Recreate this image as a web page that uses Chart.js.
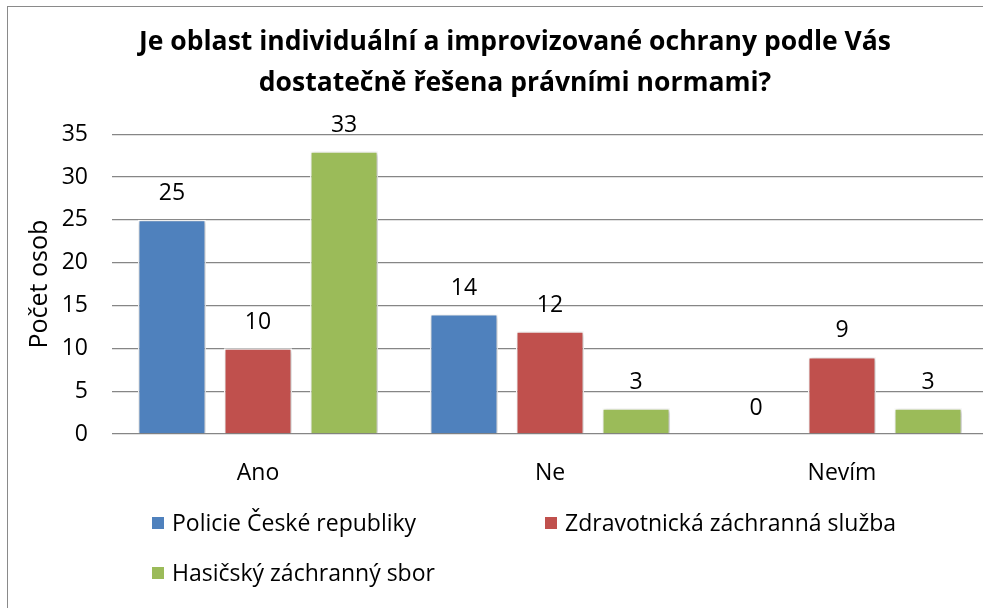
<!DOCTYPE html>
<html>
<head>
<meta charset="utf-8">
<script src="https://cdn.jsdelivr.net/npm/chart.js@4.4.1/dist/chart.umd.min.js"></script>
<style>
  html, body { margin: 0; padding: 0; background: #fff; overflow: hidden; }
  .frame { position: absolute; left: 7px; top: 6px; width: 1100px; height: 700px;
           border-left: 1.5px solid #8a8a8a; border-top: 1.5px solid #8a8a8a; }
  .wrap { position: absolute; left: 0; top: 0; width: 1030px; height: 620px; }
</style>
</head>
<body>
<div class="frame"></div>
<div class="wrap"><canvas id="chart" width="1030" height="620"></canvas></div>
<script>
// Data
const categories = ['Ano', 'Ne', 'Nevím'];
const seriesNames = ['Policie České republiky', 'Zdravotnická záchranná služba', 'Hasičský záchranný sbor'];
const policie = [25, 14, 0];
const zdravotnicka = [10, 12, 9];
const hasici = [33, 3, 3];
const yTicks = [0, 5, 10, 15, 20, 25, 30, 35];

const colors = ['#4F81BD', '#C0504D', '#9BBB59'];
const fontFamily = '"Open Sans", sans-serif';
const labelSize = 23;

// legend slots (two columns, like the Excel original)
const legendSlots = [[152, 523], [545, 523], [152, 573]];

const shadowPlugin = {
    id: 'barShadow',
    beforeDatasetsDraw(chart) {
        const ctx = chart.ctx;
        ctx.save();
        ctx.shadowColor = 'rgba(0,0,0,0.28)';
        ctx.shadowBlur = 4;
        ctx.shadowOffsetX = 1;
        ctx.shadowOffsetY = 1;
    },
    afterDatasetsDraw(chart) {
        chart.ctx.restore();
    }
};

const valueLabels = {
    id: 'valueLabels',
    afterDatasetsDraw(chart) {
        const ctx = chart.ctx;
        ctx.save();
        ctx.font = labelSize + 'px ' + fontFamily;
        ctx.fillStyle = '#000';
        ctx.textAlign = 'center';
        ctx.textBaseline = 'middle';
        chart.data.datasets.forEach((ds, i) => {
            const meta = chart.getDatasetMeta(i);
            meta.data.forEach((bar, j) => {
                ctx.fillText(String(ds.data[j]), bar.x, bar.y - 26);
            });
        });
        ctx.restore();
    }
};

const customLegend = {
    id: 'customLegend',
    afterDraw(chart) {
        const ctx = chart.ctx;
        ctx.save();
        ctx.font = labelSize + 'px ' + fontFamily;
        ctx.textBaseline = 'middle';
        ctx.textAlign = 'left';
        chart.data.datasets.forEach((ds, i) => {
            const [x, y] = legendSlots[i];
            ctx.fillStyle = ds.backgroundColor;
            ctx.fillRect(x, y - 6, 12, 12);
            ctx.fillStyle = '#000';
            ctx.fillText(ds.label, x + 20, y + 1);
        });
        ctx.restore();
    }
};

const ctx = document.getElementById('chart');
new Chart(ctx, {
    type: 'bar',
    data: {
        labels: categories,
        datasets: [policie, zdravotnicka, hasici].map((d, i) => ({
            label: seriesNames[i],
            data: d,
            backgroundColor: colors[i],
            borderColor: '#ffffff',
            borderWidth: 1.5,
            barPercentage: 0.79,
            categoryPercentage: 0.884
        }))
    },
    options: {
        responsive: false,
        animation: false,
        // left padding keeps the title centred on the whole chart box
        layout: { padding: { left: 42, right: 42, top: 0, bottom: 126 } },
        plugins: {
            legend: { display: false },
            tooltip: { enabled: false },
            title: {
                display: true,
                text: ['Je oblast individuální a improvizované ochrany podle Vás', 'dostatečně řešena právními normami?'],
                color: '#000',
                font: { family: fontFamily, size: 26.5, weight: 'bold', lineHeight: 1.55 },
                padding: { top: 21.5, bottom: 30.5 }
            }
        },
        scales: {
            x: {
                grid: { display: false },
                border: { display: false },
                ticks: { color: '#000', font: { family: fontFamily, size: labelSize }, padding: 18 },
                afterFit(scale) { scale.height = 60; }
            },
            y: {
                min: 0,
                max: 35,
                afterBuildTicks(scale) { scale.ticks = yTicks.map(v => ({ value: v })); },
                grid: { color: '#868686', lineWidth: 1.3, drawTicks: false },
                border: { display: false },
                ticks: { color: '#000', font: { family: fontFamily, size: labelSize }, padding: 24 },
                title: {
                    display: true,
                    text: 'Počet osob',
                    color: '#000',
                    font: { family: fontFamily, size: 25 },
                    padding: { top: -17 }
                },
                afterFit(scale) { scale.width = 70; }
            }
        }
    },
    plugins: [shadowPlugin, valueLabels, customLegend]
});
</script>
</body>
</html>
